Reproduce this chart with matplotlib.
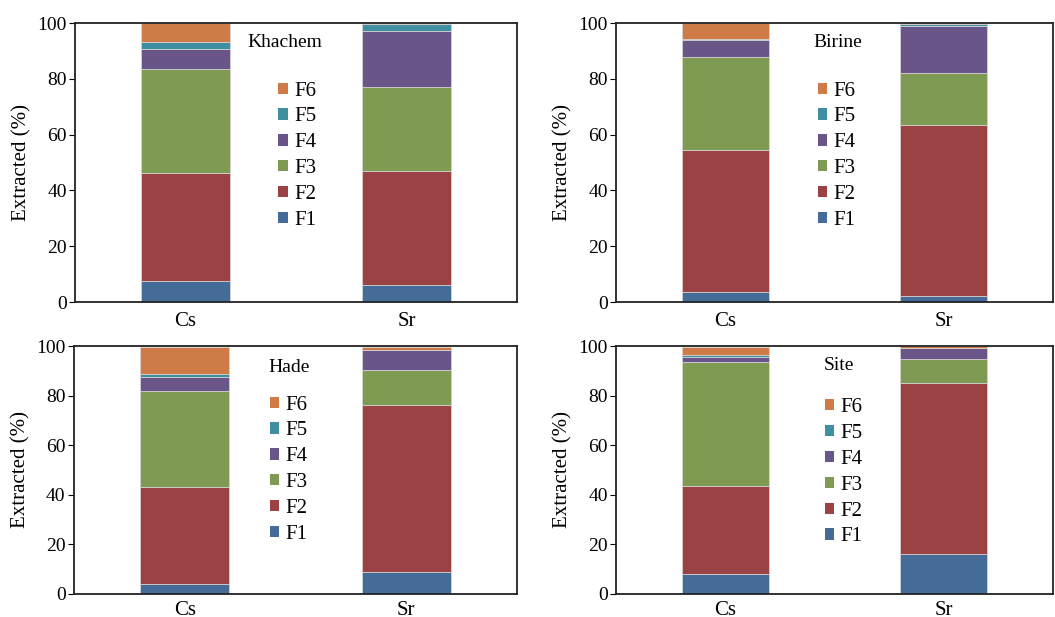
import numpy as np
import matplotlib
matplotlib.use("Agg")
import matplotlib.pyplot as plt
from matplotlib.patches import Patch

plt.rcParams['font.family'] = ['Liberation Serif', 'DejaVu Serif']

# Data (% extracted in each fraction)
elements = ['Cs', 'Sr']
fractions = ['F1', 'F2', 'F3', 'F4', 'F5', 'F6']
colors = ['#456c99', '#9a4244', '#7f9a52', '#6a5589', '#3f8ea2', '#cf7b48']

khachem = {'Cs': [7.4, 39.0, 37.2, 7.1, 2.5, 6.8],
           'Sr': [6.2, 40.9, 30.1, 19.8, 2.8, 0.2]}
birine = {'Cs': [3.5, 50.9, 33.4, 6.0, 0.5, 5.7],
          'Sr': [2.0, 61.4, 18.8, 16.6, 1.0, 0.2]}
hade = {'Cs': [3.9, 39.3, 38.5, 5.8, 1.3, 10.8],
        'Sr': [8.9, 67.5, 14.0, 8.0, 0.1, 1.1]}
site = {'Cs': [8.1, 35.4, 50.2, 1.9, 0.9, 3.2],
        'Sr': [16.3, 68.8, 9.8, 4.2, 0.1, 0.8]}

# name, data, axes rect, legend x, legend top, title x, title y
panels = [
    ('Khachem', khachem, [0.0711, 0.5105, 0.419, 0.4522], 0.46, 0.79, 0.475, 0.93),
    ('Birine', birine, [0.584, 0.5105, 0.414, 0.4522], 0.462, 0.79, 0.508, 0.93),
    ('Hade', hade, [0.0701, 0.0373, 0.420, 0.4019], 0.442, 0.80, 0.485, 0.915),
    ('Site', site, [0.584, 0.0373, 0.414, 0.4019], 0.478, 0.79, 0.51, 0.923),
]

fig = plt.figure(figsize=(10.55, 6.17), dpi=100)

for k, (name, data, rect, lx, ly, tx, ty) in enumerate(panels):
    ax = fig.add_axes(rect)
    x = np.arange(len(elements))
    bottom = np.zeros(len(elements))
    for i, f in enumerate(fractions):
        vals = np.array([data[e][i] for e in elements])
        ax.bar(x, vals, width=0.4, bottom=bottom, color=colors[i],
               edgecolor='#d9d9d9', linewidth=0.5, label=f)
        bottom += vals
    ax.set_xlim(-0.5, 1.5)
    ax.set_ylim(0, 100)
    ax.set_yticks([0, 20, 40, 60, 80, 100])
    ax.set_xticks(x)
    ax.set_xticklabels(elements)
    ax.tick_params(axis='x', length=0, labelsize=15, pad=7 if k < 2 else 5)
    ax.tick_params(axis='y', direction='out', length=4, labelsize=14, pad=2)
    for s in ax.spines.values():
        s.set_linewidth(1.3)
        s.set_color('#222222')
    ax.set_ylabel('Extracted (%)', fontsize=15, labelpad=4)

    handles = [Patch(facecolor=colors[i], label=fractions[i]) for i in range(6)][::-1]
    ax.legend(handles=handles, loc='upper left', bbox_to_anchor=(lx, ly),
              frameon=False, fontsize=15, handlelength=0.45, handleheight=0.45,
              handletextpad=0.3, labelspacing=0.33, borderpad=0, borderaxespad=0)
    ax.text(tx, ty, name, transform=ax.transAxes, ha='center',
            va='center', fontsize=14)

fig.savefig('out.png', dpi=100)
